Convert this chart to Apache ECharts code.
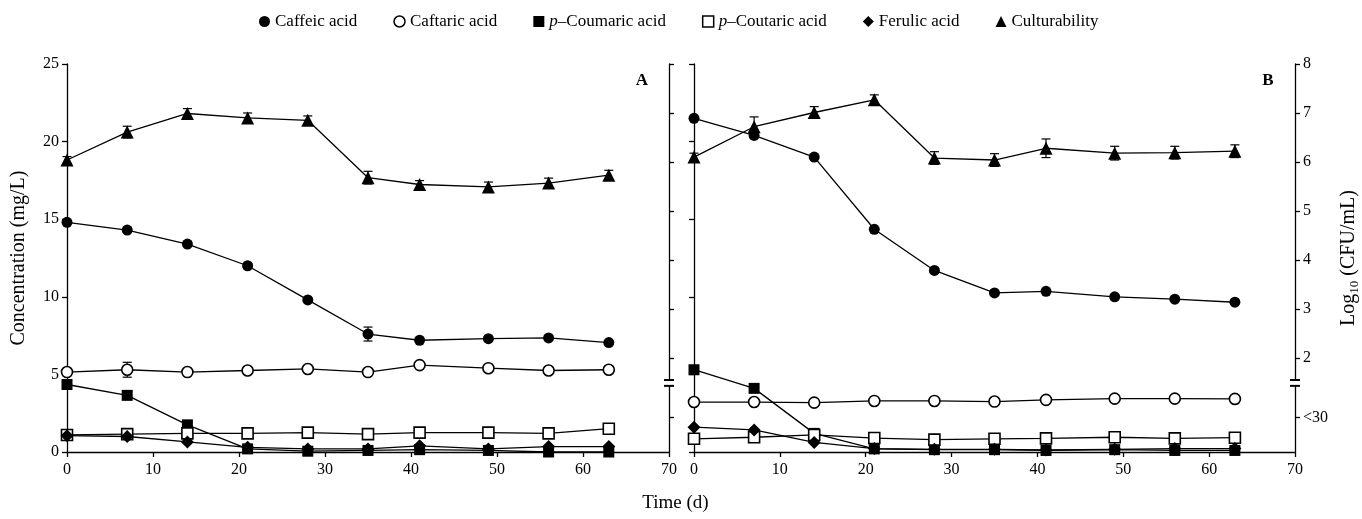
<!DOCTYPE html>
<html>
<head>
<meta charset="utf-8">
<script src="https://cdn.jsdelivr.net/npm/echarts@6/dist/echarts.min.js"></script>
<style>
html,body{margin:0;padding:0;background:#fff;}
#chart{width:1362px;height:519px;}
</style>
</head>
<body>
<div id="chart"></div>
<script>
// ---------- data ----------
const days = [0, 7, 14, 21, 28, 35, 41, 49, 56, 63];
const xTicks = [0, 10, 20, 30, 40, 50, 60, 70];
const concTicks = [0, 5, 10, 15, 20, 25];
const logTickValues = [0.78, 2, 3, 4, 5, 6, 7, 8];
const logTickLabels = ['<30', '2', '3', '4', '5', '6', '7', '8'];

// Panel A
const caffeicA   = [14.8, 14.3, 13.4, 12.0, 9.8, 7.6, 7.2, 7.3, 7.35, 7.05];
const caftaricA  = [5.15, 5.3, 5.15, 5.25, 5.35, 5.15, 5.6, 5.4, 5.25, 5.3];
const coumaricA  = [4.35, 3.65, 1.75, 0.2, 0.05, 0.1, 0.15, 0.1, 0.0, 0.0];
const coutaricA  = [1.1, 1.15, 1.2, 1.2, 1.25, 1.15, 1.25, 1.25, 1.2, 1.5];
const ferulicA   = [1.05, 1.0, 0.65, 0.3, 0.2, 0.2, 0.4, 0.2, 0.35, 0.35];
const cultA      = [6.04, 6.61, 6.99, 6.90, 6.85, 5.68, 5.54, 5.49, 5.57, 5.73];
const cultAErr   = [0.07, 0.12, 0.1, 0.1, 0.09, 0.13, 0.08, 0.1, 0.1, 0.1];
const caffeicAErr  = [0, 0, 0, 0, 0, 0.45, 0, 0, 0, 0];
const caftaricAErr = [0, 0.48, 0, 0, 0, 0, 0, 0, 0, 0];

// Panel B
const caffeicB   = [21.5, 20.4, 19.0, 14.35, 11.7, 10.25, 10.35, 10.0, 9.85, 9.65];
const caftaricB  = [3.22, 3.22, 3.18, 3.29, 3.29, 3.25, 3.36, 3.44, 3.44, 3.42];
const coumaricB  = [5.3, 4.1, 1.2, 0.2, 0.15, 0.15, 0.1, 0.15, 0.1, 0.1];
const coutaricB  = [0.85, 0.95, 1.1, 0.9, 0.8, 0.85, 0.88, 0.95, 0.88, 0.92];
const ferulicB   = [1.6, 1.42, 0.62, 0.22, 0.17, 0.17, 0.13, 0.17, 0.22, 0.22];
const cultB      = [6.10, 6.72, 7.01, 7.27, 6.08, 6.04, 6.28, 6.18, 6.19, 6.22];
const cultBErr   = [0.08, 0.2, 0.12, 0.1, 0.13, 0.13, 0.19, 0.14, 0.13, 0.13];

const names = ['Caffeic acid', 'Caftaric acid', 'p–Coumaric acid', 'p–Coutaric acid', 'Ferulic acid', 'Culturability'];
const logBreak = [1.43, 1.55];

// ---------- chart ----------
const FONT = 'Liberation Serif';
const chart = echarts.init(document.getElementById('chart'), null, {renderer: 'canvas'});

const styles = {
  'Caffeic acid':     {symbol: 'circle',   size: 11, fill: '#000'},
  'Caftaric acid':    {symbol: 'circle',   size: 11, fill: '#fff'},
  'p–Coumaric acid':  {symbol: 'rect',     size: 11, fill: '#000'},
  'p–Coutaric acid':  {symbol: 'rect',     size: 11, fill: '#fff'},
  'Ferulic acid':     {symbol: 'diamond',  size: 13, fill: '#000'},
  'Culturability':    {symbol: 'triangle', size: 13, fill: '#000'}
};

function lineSeries(name, values, xi, yi) {
  const s = styles[name];
  return {
    type: 'line', name: name, xAxisIndex: xi, yAxisIndex: yi,
    data: days.map((d, i) => [d, values[i]]),
    symbol: s.symbol, symbolSize: s.size, showAllSymbol: true,
    lineStyle: {color: '#000', width: 1.3},
    itemStyle: {color: s.fill, borderColor: '#000', borderWidth: s.fill === '#fff' ? 1.6 : 0},
    z: 3, animation: false
  };
}

function errSeries(name, values, errs, xi, yi) {
  return {
    type: 'custom', name: name, xAxisIndex: xi, yAxisIndex: yi,
    data: days.map((d, i) => [d, values[i], errs[i]]).filter(p => p[2] > 0),
    renderItem: function (params, api) {
      const x = api.value(0), y = api.value(1), e = api.value(2);
      const top = api.coord([x, y + e]);
      const bot = api.coord([x, y - e]);
      const hw = 4.5;
      const st = {stroke: '#000', lineWidth: 1.2};
      return {type: 'group', children: [
        {type: 'line', shape: {x1: top[0], y1: top[1], x2: bot[0], y2: bot[1]}, style: st},
        {type: 'line', shape: {x1: top[0] - hw, y1: top[1], x2: top[0] + hw, y2: top[1]}, style: st},
        {type: 'line', shape: {x1: bot[0] - hw, y1: bot[1], x2: bot[0] + hw, y2: bot[1]}, style: st}
      ]};
    },
    z: 2, animation: false, silent: true
  };
}

const axisLine = {show: true, lineStyle: {color: '#000', width: 1.3}};
const axisTick = {show: true, length: 5, lineStyle: {color: '#000', width: 1.3}};
const labelFont = {fontFamily: FONT, fontSize: 16, color: '#000'};

function xAxisDef(gi) {
  return {
    type: 'value', gridIndex: gi, min: 0, max: 70, interval: 10,
    axisLine: axisLine, axisTick: axisTick, splitLine: {show: false},
    axisLabel: Object.assign({margin: 10}, labelFont)
  };
}

function concAxis(gi, showLabels, withName) {
  return {
    type: 'value', gridIndex: gi, position: 'left', min: 0, max: 25, interval: 5,
    axisLine: axisLine, axisTick: axisTick, splitLine: {show: false},
    axisLabel: Object.assign({show: showLabels, margin: 8}, labelFont),
    name: withName ? 'Concentration (mg/L)' : '',
    nameLocation: 'middle', nameGap: 38, nameRotate: 90,
    nameTextStyle: {fontFamily: FONT, fontSize: 20, color: '#000'}
  };
}

function logAxis(gi, showLabels, withName) {
  return {
    type: 'value', gridIndex: gi, position: 'right', min: 0.08, max: 8,
    axisLine: axisLine,
    axisTick: Object.assign({customValues: logTickValues}, axisTick),
    splitLine: {show: false},
    axisLabel: Object.assign({
      show: showLabels, margin: 8, customValues: logTickValues,
      formatter: function (v) { const i = logTickValues.indexOf(v); return i >= 0 ? logTickLabels[i] : ''; }
    }, labelFont),
    name: withName ? 'Log{sub|10} (CFU/mL)' : '',
    nameLocation: 'middle', nameGap: 42, nameRotate: 90,
    nameTextStyle: {fontFamily: FONT, fontSize: 20, color: '#000',
      rich: {sub: {fontFamily: FONT, fontSize: 13, color: '#000', padding: [11, 0, 0, 0]}}}
  };
}

const series = [
  lineSeries('Culturability', cultA, 0, 1),
  lineSeries('Caffeic acid', caffeicA, 0, 0),
  lineSeries('Caftaric acid', caftaricA, 0, 0),
  lineSeries('p–Coumaric acid', coumaricA, 0, 0),
  lineSeries('p–Coutaric acid', coutaricA, 0, 0),
  lineSeries('Ferulic acid', ferulicA, 0, 0),
  errSeries('Culturability', cultA, cultAErr, 0, 1),
  errSeries('Caffeic acid', caffeicA, caffeicAErr, 0, 0),
  errSeries('Caftaric acid', caftaricA, caftaricAErr, 0, 0),
  lineSeries('Culturability', cultB, 1, 3),
  lineSeries('Caffeic acid', caffeicB, 1, 2),
  lineSeries('Caftaric acid', caftaricB, 1, 2),
  lineSeries('p–Coumaric acid', coumaricB, 1, 2),
  lineSeries('p–Coutaric acid', coutaricB, 1, 2),
  lineSeries('Ferulic acid', ferulicB, 1, 2),
  errSeries('Culturability', cultB, cultBErr, 1, 3)
];

const legendData = names.map(n => ({
  name: n, icon: styles[n].symbol,
  itemStyle: {color: styles[n].fill, borderColor: '#000', borderWidth: styles[n].fill === '#fff' ? 1.5 : 0}
}));

chart.setOption({
  animation: false,
  backgroundColor: '#fff',
  legend: {
    data: legendData, top: 8, left: 254, itemWidth: 11, itemHeight: 11, itemGap: 36,
    selectedMode: false,
    textStyle: {fontFamily: FONT, fontSize: 17, color: '#000',
      rich: {i: {fontFamily: FONT, fontSize: 17, fontStyle: 'italic', color: '#000'}}},
    formatter: function (n) { return n.indexOf('p–') === 0 ? '{i|p}–' + n.slice(2) : n; }
  },
  grid: [
    {left: 67, top: 64, width: 602, height: 388},
    {left: 694, top: 64, width: 603, height: 388}
  ],
  xAxis: [xAxisDef(0), xAxisDef(1)],
  yAxis: [concAxis(0, true, true), logAxis(0, false, false), concAxis(1, false, false), logAxis(1, true, true)],
  series: series
});

// axis break marks, panel letters and x-axis title (positions taken from the axes)
function decorations() {
  const g = [];
  [[0, 1], [1, 3]].forEach(function (pair) {
    const x = chart.convertToPixel({xAxisIndex: pair[0]}, 70);
    const y1 = chart.convertToPixel({yAxisIndex: pair[1]}, logBreak[1]);
    const y2 = chart.convertToPixel({yAxisIndex: pair[1]}, logBreak[0]);
    g.push({type: 'rect', shape: {x: x - 3, y: y1, width: 6, height: y2 - y1}, style: {fill: '#fff'}, z: 50});
    g.push({type: 'line', shape: {x1: x - 5, y1: y1, x2: x + 5, y2: y1}, style: {stroke: '#000', lineWidth: 2}, z: 51});
    g.push({type: 'line', shape: {x1: x - 5, y1: y2, x2: x + 5, y2: y2}, style: {stroke: '#000', lineWidth: 2}, z: 51});
  });
  const topY = chart.convertToPixel({yAxisIndex: 0}, 25);
  const xA = chart.convertToPixel({xAxisIndex: 0}, 70);
  const xB = chart.convertToPixel({xAxisIndex: 1}, 70);
  g.push({type: 'text', x: xA - 27, y: topY + 17, style: {text: 'A', font: 'bold 17px "Liberation Serif"', fill: '#000', textAlign: 'center', textVerticalAlign: 'middle'}});
  g.push({type: 'text', x: xB - 27, y: topY + 17, style: {text: 'B', font: 'bold 17px "Liberation Serif"', fill: '#000', textAlign: 'center', textVerticalAlign: 'middle'}});
  const midX = (chart.convertToPixel({xAxisIndex: 0}, 70) + chart.convertToPixel({xAxisIndex: 1}, 0)) / 2;
  const baseY = chart.convertToPixel({yAxisIndex: 0}, 0);
  g.push({type: 'text', x: midX - 6, y: baseY + 51, style: {text: 'Time (d)', font: '19px "Liberation Serif"', fill: '#000', textAlign: 'center', textVerticalAlign: 'middle'}});
  chart.setOption({graphic: g});
}
decorations();
</script>
</body>
</html>
